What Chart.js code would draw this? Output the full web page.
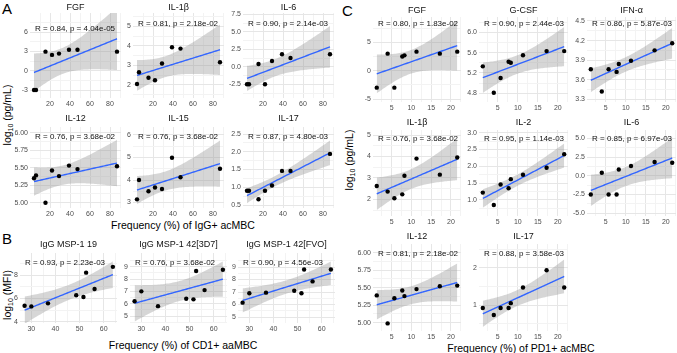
<!DOCTYPE html>
<html>
<head>
<meta charset="utf-8">
<script src="https://cdn.jsdelivr.net/npm/chart.js@4.4.0/dist/chart.umd.min.js"></script>
<style>
body { margin: 0; background: #fff; font-family: "Liberation Sans", Arial, sans-serif; }
#fig { position: relative; width: 677px; height: 353px; overflow: hidden; background: #fff; }
#fig canvas { position: absolute; }
.lab { position: absolute; color: #000; white-space: nowrap; line-height: 1; }
.big { font-size: 15px; }
.ax { font-size: 10.5px; transform: translate(-50%, -50%); }
.yax { font-size: 10.5px; transform: translate(-50%, -50%) rotate(-90deg); }
.yax sub { font-size: 7px; vertical-align: -2px; }
</style>
</head>
<body>
<div id="fig">
  <div class="lab big" style="left:2px;top:1px">A</div>
  <div class="lab big" style="left:2px;top:231px">B</div>
  <div class="lab big" style="left:342px;top:3px">C</div>
  <div class="lab ax" style="left:183px;top:225px">Frequency (%) of IgG+ acMBC</div>
  <div class="lab ax" style="left:183px;top:345px">Frequency (%) of CD1+ aaMBC</div>
  <div class="lab ax" style="left:521px;top:348px">Frequency (%) of PD1+ acMBC</div>
  <div class="lab yax" style="left:8px;top:115px">log<sub>10</sub> (pg/mL)</div>
  <div class="lab yax" style="left:8px;top:295px">log<sub>10</sub> (MFI)</div>
  <div class="lab yax" style="left:350px;top:160px">log<sub>10</sub> (pg/mL)</div>
</div>
<script>
// --- data ---
// A: frequency (%) of IgG+ acMBC vs log10 cytokine
const xA = [4, 6, 15.5, 22, 29, 39, 47.5, 87];
const fgfA  = [-3, -3, 2.95, 2.45, 2.65, 3.25, 3.25, 2.95];
const il1bA = [2.05, 2.65, 2.37, 2.24, 3.1, 3.93, 3.86, 3.16];
const il6A  = [-2.5, -2.5, 0.4, -2.5, 0.83, 1.79, 1.26, 1.79];
const il12A = [5.35, 5.39, 5.00, 5.46, 5.38, 5.53, 5.48, 5.52];
const il15A = [3.14, 4.0, 3.5, 3.67, 3.6, 4.99, 4.12, 4.5];
const il17A = [0.9, 0.9, 0.66, 0.9, 1.05, 1.46, 1.46, 1.94];

// B: frequency (%) of CD1+ aaMBC vs log10 MFI
const xB = [27.2, 30, 36.9, 48.6, 51.6, 52.7, 56.2, 63.8];
const msp19  = [5.37, 5.31, 5.57, 6.26, 6.11, 8.2, 6.8, 8.7];
const msp3d7 = [6.2, 7.0, 5.8, 6.4, 6.35, 8.65, 7.1, 8.75];
const mspFvo = [6.15, 6.9, 6.95, 7.1, 6.9, 8.8, 7.85, 8.8];

// C: frequency (%) of PD1+ acMBC vs log10 cytokine
const xC = [1.25, 4, 5.7, 7.7, 8.25, 11.3, 17.2, 21.6];
const fgfC  = [-3, 3.0, -3, 2.5, 2.7, 3.35, 3.0, 3.35];
const gcsfC = [5.33, 4.81, 5.1, 5.42, 5.4, 5.55, 5.63, 5.63];
const ifnC  = [3.76, 3.42, 3.76, 3.72, 3.84, 3.89, 4.05, 4.16];
const il1bC = [2.62, 2.36, 2.05, 2.23, 3.1, 3.9, 3.15, 3.95];
const il2C  = [1.22, 0.85, 1.46, 1.35, 1.62, 1.75, 1.96, 2.36];
const il6C  = [-2.5, 0.4, -2.5, -2.5, 0.85, 1.3, 1.85, 1.75];
const il12C = [5.39, 4.99, 5.35, 5.46, 5.38, 5.48, 5.52, 5.53];
const il17C = [0.92, 0.73, 0.92, 0.92, 1.05, 1.47, 1.93, 1.47];

// tick labels
const xtA = [20, 40, 60, 80], xtB = [30, 40, 50, 60], xtC = [5, 10, 15, 20];
const ytFgfA = [-3, 0, 3, 6], ytIl1bA = [2, 3, 4, 5], ytIl6A = [-2.5, 0, 2.5, 5, 7.5];
const ytIl12A = [5, 5.25, 5.5, 5.75, 6], ytIl15A = [3, 4, 5, 6], ytIl17A = [0.5, 1, 1.5, 2, 2.5];
const ytMsp19 = [4, 6, 8], ytMsp3d7 = [5, 6, 7, 8, 9], ytMspFvo = [5, 6, 7, 8, 9];
const ytFgfC = [-5, 0, 5], ytGcsfC = [4.8, 5.2, 5.6, 6.0], ytIfnC = [3.3, 3.6, 3.9, 4.2, 4.5];
const ytIl1bC = [2, 3, 4, 5], ytIl2C = [1, 1.5, 2, 2.5, 3], ytIl6C = [-5, -2.5, 0, 2.5, 5];
const ytIl12C = [5, 5.25, 5.5, 5.75, 6], ytIl17C = [1, 2];

// --- layout: box = plot area [l,t,r,b] in page px, ya = two y ticks and their px rows ---
const panels = [
  {title:'FGF',   r:'R = 0.84, p = 4.04e-05', x:xA, y:fgfA,  xt:xtA, yt:ytFgfA,  dec:0, box:[30,13,121,98],  xr:[0,91], ya:[6,32,-3,90],        ty:8,  ry:29},
  {title:'IL-1β', r:'R = 0.81, p = 2.18e-02', x:xA, y:il1bA, xt:xtA, yt:ytIl1bA, dec:0, box:[133,13,224,98], xr:[0,91], ya:[5,26.3,2,85],       ty:8,  ry:24},
  {title:'IL-6',  r:'R = 0.90, p = 2.14e-03', x:xA, y:il6A,  xt:xtA, yt:ytIl6A,  dec:1, box:[243,13,334,98], xr:[0,91], ya:[7.5,14.3,-2.5,84.3], ty:8,  ry:24},
  {title:'IL-12', r:'R = 0.76, p = 3.68e-02', x:xA, y:il12A, xt:xtA, yt:ytIl12A, dec:2, box:[30,127,121,208], xr:[0,91], ya:[6,132.7,5,202.7],   ty:119, ry:137},
  {title:'IL-15', r:'R = 0.76, p = 3.68e-02', x:xA, y:il15A, xt:xtA, yt:ytIl15A, dec:0, box:[133,127,224,208], xr:[0,91], ya:[6,135,3,202.5],    ty:119, ry:137},
  {title:'IL-17', r:'R = 0.87, p = 4.80e-03', x:xA, y:il17A, xt:xtA, yt:ytIl17A, dec:1, box:[243,127,334,208], xr:[0,91], ya:[2.5,134,0.5,205],  ty:119, ry:137},
  {title:'IgG MSP-1 19',       r:'R = 0.93, p = 2.23e-03', x:xB, y:msp19,  xt:xtB, yt:ytMsp19,  dec:0, box:[20,253,117,323],  xr:[25.3,65.5], ya:[8,275,4,321.7], ty:245, ry:263},
  {title:'IgG MSP-1 42[3D7]',  r:'R = 0.76, p = 3.68e-02', x:xB, y:msp3d7, xt:xtB, yt:ytMsp3d7, dec:0, box:[130,253,227,323], xr:[25.3,65.5], ya:[9,266.7,5,316], ty:245, ry:263},
  {title:'IgG MSP-1 42[FVO]',  r:'R = 0.90, p = 4.56e-03', x:xB, y:mspFvo, xt:xtB, yt:ytMspFvo, dec:0, box:[238,253,335,323], xr:[25.3,65.5], ya:[9,267,5,317],   ty:245, ry:263},
  {title:'FGF',   r:'R = 0.80, p = 1.83e-02', x:xC, y:fgfC,  xt:xtC, yt:ytFgfC,  dec:0, box:[373,17,461,102],  xr:[0.3,22.55], ya:[5,42.3,-5,99],     ty:11,  ry:24},
  {title:'G-CSF', r:'R = 0.90, p = 2.44e-03', x:xC, y:gcsfC, xt:xtC, yt:ytGcsfC, dec:1, box:[479,17,568,102],  xr:[0.3,22.55], ya:[6,32.3,4.8,93.3],  ty:11,  ry:24},
  {title:'IFN-α', r:'R = 0.86, p = 5.87e-03', x:xC, y:ifnC,  xt:xtC, yt:ytIfnC,  dec:1, box:[587,17,676,102],  xr:[0.3,22.55], ya:[4.5,21,3.3,99.3],  ty:11,  ry:24},
  {title:'IL-1β', r:'R = 0.76, p = 3.68e-02', x:xC, y:il1bC, xt:xtC, yt:ytIl1bC, dec:0, box:[373,130,461,216], xr:[0.3,22.55], ya:[5,135,2,199.3],    ty:123, ry:139},
  {title:'IL-2',  r:'R = 0.95, p = 1.14e-03', x:xC, y:il2C,  xt:xtC, yt:ytIl2C,  dec:1, box:[479,130,568,216], xr:[0.3,22.55], ya:[3,132.7,1,200],    ty:123, ry:139},
  {title:'IL-6',  r:'R = 0.85, p = 6.97e-03', x:xC, y:il6C,  xt:xtC, yt:ytIl6C,  dec:1, box:[587,130,676,216], xr:[0.3,22.55], ya:[5,138.3,-5,213.3], ty:123, ry:139},
  {title:'IL-12', r:'R = 0.81, p = 2.18e-02', x:xC, y:il12C, xt:xtC, yt:ytIl12C, dec:2, box:[373,244,461,331], xr:[0.3,22.55], ya:[6,252.7,5,322.7],  ty:237, ry:254},
  {title:'IL-17', r:'R = 0.88, p = 3.58e-03', x:xC, y:il17C, xt:xtC, yt:ytIl17C, dec:0, box:[479,244,568,331], xr:[0.3,22.55], ya:[2,267.7,1,305],    ty:237, ry:254},
];

const FONT = '"Liberation Sans", Arial, sans-serif';
const T95 = {5: 2.571, 6: 2.447, 7: 2.365};

// linear fit with 95% confidence band, like geom_smooth(method = "lm")
function lmFit(xs, ys) {
  const n = xs.length;
  const mx = xs.reduce((a, b) => a + b, 0) / n;
  const my = ys.reduce((a, b) => a + b, 0) / n;
  let sxx = 0, sxy = 0;
  xs.forEach((x, i) => { sxx += (x - mx) ** 2; sxy += (x - mx) * (ys[i] - my); });
  const b = sxy / sxx, a = my - b * mx;
  let sse = 0;
  xs.forEach((x, i) => { sse += (ys[i] - a - b * x) ** 2; });
  const s = Math.sqrt(sse / (n - 2)), t = T95[n - 2];
  const lo = Math.min(...xs), hi = Math.max(...xs);
  const line = [], up = [], dn = [];
  for (let i = 0; i <= 60; i++) {
    const x = lo + (hi - lo) * i / 60;
    const yh = a + b * x;
    const h = t * s * Math.sqrt(1 / n + (x - mx) ** 2 / sxx);
    line.push({x, y: yh}); up.push({x, y: yh + h}); dn.push({x, y: yh - h});
  }
  return {line, up, dn};
}

function withMinor(major, min, max) {
  const step = major.length > 1 ? major[1] - major[0] : 1;
  const out = [];
  for (let v = major[0] - step / 2; v <= major[major.length - 1] + step / 2 + 1e-9; v += step / 2) {
    const r = Math.round(v * 1000) / 1000;
    if (r >= min - 1e-9 && r <= max + 1e-9) out.push(r);
  }
  return out;
}
const isMajor = (arr, v) => arr.some(m => Math.abs(m - v) < 1e-6);

const panelText = {
  id: 'panelText',
  afterDatasetsDraw(chart, args, o) {
    const ctx = chart.ctx, ca = chart.chartArea;
    ctx.save();
    ctx.fillStyle = '#111';
    ctx.textBaseline = 'middle';
    ctx.font = '8px ' + FONT;
    ctx.textAlign = 'left';
    ctx.fillText(o.r, ca.left + o.rx, o.ry - o.top);
    ctx.font = '9px ' + FONT;
    ctx.textAlign = 'center';
    ctx.fillText(o.title, (ca.left + ca.right) / 2, o.ty - o.top);
    ctx.restore();
  }
};

const fig = document.getElementById('fig');
panels.forEach(p => {
  const [l, t, r, b] = p.box;
  const padL = 30, padR = 4, padB = 13;
  const top = Math.min(p.ty - 8, t - 2);
  const W = (r - l) + padL + padR, H = (b - top) + padB;
  const cv = document.createElement('canvas');
  cv.width = W; cv.height = H;
  cv.style.left = (l - padL) + 'px'; cv.style.top = top + 'px';
  cv.style.width = W + 'px'; cv.style.height = H + 'px';
  fig.appendChild(cv);

  const [v1, p1, v2, p2] = p.ya;
  const yAt = px => v1 + (v2 - v1) * (px - p1) / (p2 - p1);
  const f = lmFit(p.x, p.y);
  const tickFont = {size: 7, family: FONT};

  new Chart(cv, {
    type: 'line',
    data: {
      datasets: [
        {data: p.x.map((x, i) => ({x, y: p.y[i]})), showLine: false, pointRadius: 2.2,
         pointBackgroundColor: '#000', pointBorderWidth: 0},
        {data: f.line, borderColor: '#3366ff', borderWidth: 1.4, pointRadius: 0},
        {data: f.up, borderColor: 'transparent', borderWidth: 0, pointRadius: 0,
         fill: '+1', backgroundColor: 'rgba(153,153,153,0.4)'},
        {data: f.dn, borderColor: 'transparent', borderWidth: 0, pointRadius: 0}
      ]
    },
    options: {
      responsive: false, animation: false, devicePixelRatio: 1,
      layout: {padding: {top: t - top, right: padR, left: 0, bottom: 0}},
      plugins: {
        legend: {display: false}, tooltip: {enabled: false},
        panelText: {title: p.title, r: p.r, top, ty: p.ty, ry: p.ry, rx: 5}
      },
      scales: {
        x: {
          type: 'linear', min: p.xr[0], max: p.xr[1],
          afterBuildTicks: s => { s.ticks = withMinor(p.xt, s.min, s.max).map(v => ({value: v})); },
          afterFit: s => { s.height = padB; s.paddingLeft = 0; s.paddingRight = 0; },
          ticks: {autoSkip: false, maxRotation: 0, padding: 2, color: '#4d4d4d', font: tickFont,
                  callback: v => isMajor(p.xt, v) ? String(v) : ''},
          grid: {drawTicks: false, lineWidth: 1,
                 color: c => isMajor(p.xt, c.tick.value) ? '#e6e6e6' : '#f3f3f3'},
          border: {display: false}
        },
        y: {
          type: 'linear', min: yAt(b), max: yAt(t),
          afterBuildTicks: s => { s.ticks = withMinor(p.yt, s.min, s.max).map(v => ({value: v})); },
          afterFit: s => { s.width = padL; s.paddingTop = 0; s.paddingBottom = 0; },
          ticks: {autoSkip: false, padding: 2, color: '#4d4d4d', font: tickFont,
                  callback: v => isMajor(p.yt, v) ? v.toFixed(p.dec) : ''},
          grid: {drawTicks: false, lineWidth: 1,
                 color: c => isMajor(p.yt, c.tick.value) ? '#e6e6e6' : '#f3f3f3'},
          border: {display: false}
        }
      }
    },
    plugins: [panelText]
  });
});
</script>
</body>
</html>
